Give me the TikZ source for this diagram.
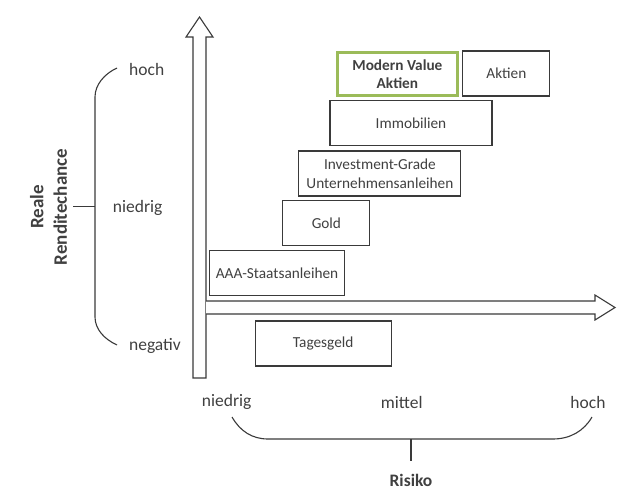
\documentclass[tikz,border=0pt]{standalone}
\usepackage{fontspec}
\setmainfont{Carlito}
\begin{document}
\begin{tikzpicture}[x=1pt,y=-1pt,
  txt/.style={text=textgray,font=\fontsize{15}{18.5}\selectfont,inner sep=0pt},
  axtxt/.style={text=textgray,font=\fontsize{17.5}{21}\selectfont,inner sep=0pt},
  assetbox/.style={draw=linegray,line width=1.1pt,rectangle,inner sep=0pt,
    text=textgray,font=\fontsize{15.3}{18.7}\selectfont,align=center,
    minimum height=45pt},
  arrowbody/.style={draw=linegray,line width=1.1pt,fill=white,line join=miter},
  bracepath/.style={draw=linegray,line width=1.1pt}]
\definecolor{textgray}{HTML}{404040}
\definecolor{linegray}{HTML}{3A3A3A}
\definecolor{valuegreen}{HTML}{9BBB59}
\useasboundingbox (0,0) rectangle (624,490);

% axes
\path[arrowbody] (193,378) -- (193,37) -- (186,37) -- (199.5,17) -- (213,37) -- (206,37) -- (206,378) -- cycle;
\path[arrowbody] (206,301) -- (595,301) -- (595,295) -- (615,307.5) -- (595,320) -- (595,314) -- (206,314);

% boxes
\node[assetbox,draw=valuegreen,line width=3pt,minimum width=120pt,minimum height=43pt,font=\fontsize{15.3}{18.7}\selectfont\bfseries] (mva) at (397.4,74.2) {Modern Value\\Aktien};
\node[assetbox,minimum width=87pt] (aktien) at (506.4,73.5) {Aktien};
\node[assetbox,minimum width=162pt] (immo) at (411,123.2) {Immobilien};
\node[assetbox,minimum width=162pt] (ig) at (379.9,173.5) {Investment-Grade\\Unternehmensanleihen};
\node[assetbox,minimum width=87pt] (gold) at (326.4,223.2) {Gold};
\node[assetbox,minimum width=135pt] (aaa) at (277,272.8) {AAA-Staatsanleihen};
\node[assetbox,minimum width=136pt] (tg) at (323.2,343.5) {Tagesgeld};

% left brace
\coordinate (lbt) at (117,68);
\coordinate (lbb) at (117,345);
\coordinate (lbm) at (95,206.7);
\coordinate (lbtick) at (73,206.7);
\draw[bracepath] (lbt) .. controls (104,74) and (95,85) .. (95,97) -- (95,317) .. controls (95,329) and (104,339) .. (lbb);
\draw[bracepath] (lbtick) -- (lbm);
\node[axtxt] (yhoch) at (146.7,69) {hoch};
\node[axtxt] (yniedrig) at (137.7,207.5) {niedrig};
\node[axtxt] (ynegativ) at (155,346) {negativ};
\node[axtxt,font=\fontsize{19}{23.5}\selectfont\bfseries,rotate=90,align=center] (ylabel) at (48.5,207) {Reale\\Renditechance};

% bottom brace
\coordinate (bbl) at (232,417);
\coordinate (bbr) at (592,417);
\coordinate (bbm) at (411,439);
\coordinate (bbtick) at (411,461);
\draw[bracepath] (bbl) .. controls (240,431) and (252,439) .. (268,439) -- (553,439) .. controls (570,439) and (584,431) .. (bbr);
\draw[bracepath] (bbm) -- (bbtick);
\node[axtxt] (xniedrig) at (226.7,402) {niedrig};
\node[axtxt] (xmittel) at (401.7,402) {mittel};
\node[axtxt] (xhoch) at (588,402) {hoch};
\node[axtxt,font=\fontsize{17.5}{21}\selectfont\bfseries] (xlabel) at (411,480) {Risiko};
\end{tikzpicture}
\end{document}
